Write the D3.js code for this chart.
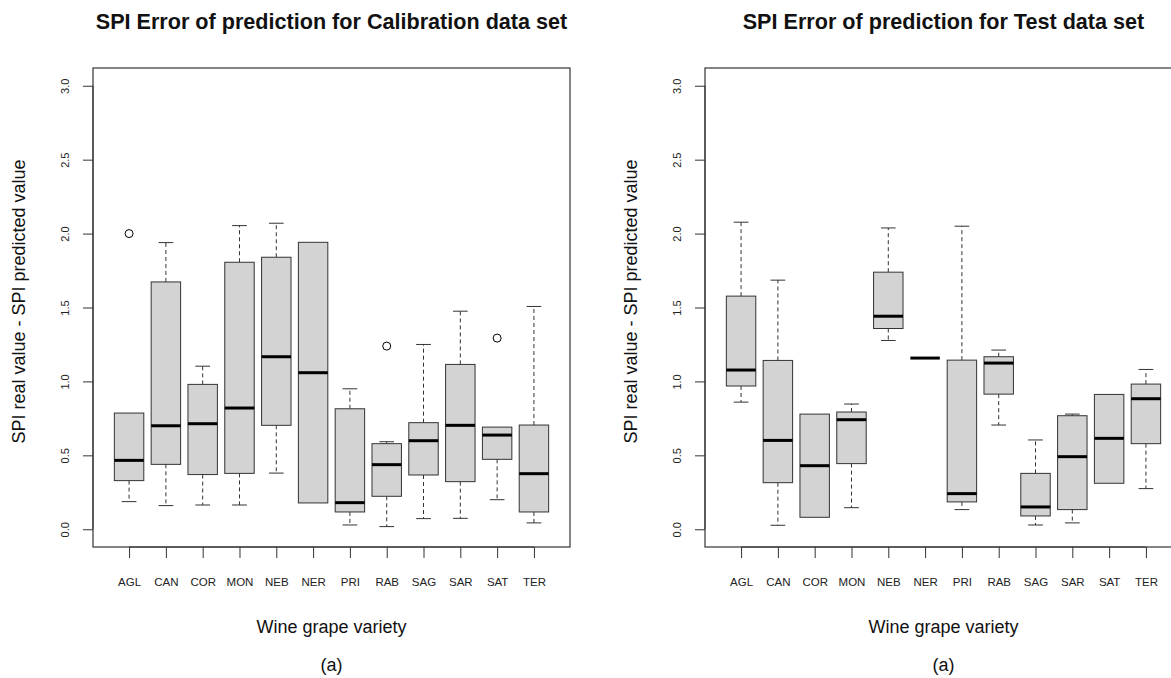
<!DOCTYPE html>
<html><head><meta charset="utf-8">
<script src="https://cdn.jsdelivr.net/npm/d3@7"></script>
<style>body{margin:0;background:#fff}svg{display:block;font-family:"Liberation Sans",Arial,sans-serif}</style>
</head><body><svg id="c" width="1171" height="678"></svg>
<script>
const categories = ["AGL","CAN","COR","MON","NEB","NER","PRI","RAB","SAG","SAR","SAT","TER"];
const yTicks = [0.0, 0.5, 1.0, 1.5, 2.0, 2.5, 3.0];

// Calibration data set
const calLow    = [0.187, 0.160, 0.164, 0.164, 0.380, 0.178, 0.029, 0.018, 0.072, 0.074, 0.200, 0.043];
const calQ1     = [0.329, 0.439, 0.370, 0.378, 0.703, 0.178, 0.117, 0.223, 0.367, 0.322, 0.473, 0.117];
const calMedian = [0.466, 0.700, 0.714, 0.820, 1.167, 1.059, 0.180, 0.437, 0.599, 0.703, 0.637, 0.376];
const calQ3     = [0.786, 1.673, 0.980, 1.806, 1.840, 1.941, 0.815, 0.579, 0.721, 1.115, 0.691, 0.705];
const calHigh   = [0.786, 1.939, 1.103, 2.054, 2.070, 1.941, 0.950, 0.592, 1.250, 1.475, 0.691, 1.507];
const calOutliers = [["AGL", 2.0], ["RAB", 1.239], ["SAT", 1.293]];

// Test data set
const testLow    = [0.860, 0.027, 0.081, 0.146, 1.277, 1.158, 0.133, 0.705, 0.029, 0.043, 0.311, 0.275];
const testQ1     = [0.969, 0.315, 0.081, 0.444, 1.358, 1.158, 0.185, 0.914, 0.090, 0.133, 0.311, 0.579];
const testMedian = [1.077, 0.601, 0.430, 0.741, 1.441, 1.158, 0.241, 1.124, 0.151, 0.491, 0.615, 0.883];
const testQ3     = [1.577, 1.142, 0.779, 0.793, 1.739, 1.158, 1.144, 1.167, 0.378, 0.768, 0.912, 0.982];
const testHigh   = [2.077, 1.685, 0.779, 0.847, 2.038, 1.158, 2.050, 1.212, 0.604, 0.779, 0.912, 1.081];
const testOutliers = [];

const svg = d3.select("#c");
const plotW = 477, plotTop = 68, plotBottom = 547;

function panel(x0, title, low, q1, med, q3, high, outliers) {
  const g = svg.append("g");
  const x = d3.scaleLinear().domain([0.02, categories.length + 0.98]).range([x0, x0 + plotW]);
  const y = d3.scaleLinear().domain([-0.12, 3.12]).range([plotBottom, plotTop]);
  const bw = (x(1.8) - x(1)); // box width 0.8
  const sw = bw / 2;
  const data = categories.map((c, i) => ({c, i: i + 1, low: low[i], q1: q1[i], med: med[i], q3: q3[i], high: high[i]}));

  // whiskers
  const wg = g.append("g").attr("stroke", "#333").attr("stroke-width", 1).attr("fill", "none");
  data.forEach(d => {
    const cx = x(d.i);
    if (d.high > d.q3) {
      wg.append("line").attr("x1", cx).attr("x2", cx).attr("y1", y(d.q3)).attr("y2", y(d.high)).attr("stroke-dasharray", "4,3");
    }
    if (d.low < d.q1) {
      wg.append("line").attr("x1", cx).attr("x2", cx).attr("y1", y(d.q1)).attr("y2", y(d.low)).attr("stroke-dasharray", "4,3");
    }
    if (d.high !== d.q3) wg.append("line").attr("x1", cx - sw/2).attr("x2", cx + sw/2).attr("y1", y(d.high)).attr("y2", y(d.high));
    if (d.low !== d.q1) wg.append("line").attr("x1", cx - sw/2).attr("x2", cx + sw/2).attr("y1", y(d.low)).attr("y2", y(d.low));
  });
  // boxes
  g.append("g").selectAll("rect").data(data).join("rect")
    .attr("x", d => x(d.i) - bw/2).attr("width", bw)
    .attr("y", d => y(d.q3)).attr("height", d => Math.max(0, y(d.q1) - y(d.q3)))
    .attr("fill", "#d3d3d3").attr("stroke", "#333").attr("stroke-width", 1);
  // medians
  g.append("g").selectAll("line").data(data).join("line")
    .attr("x1", d => x(d.i) - bw/2).attr("x2", d => x(d.i) + bw/2)
    .attr("y1", d => y(d.med)).attr("y2", d => y(d.med))
    .attr("stroke", "#000").attr("stroke-width", 3);
  // outliers
  g.append("g").selectAll("circle").data(outliers).join("circle")
    .attr("cx", d => x(categories.indexOf(d[0]) + 1)).attr("cy", d => y(d[1])).attr("r", 4)
    .attr("fill", "none").attr("stroke", "#000").attr("stroke-width", 1);

  // frame
  g.append("rect").attr("x", x0).attr("y", plotTop).attr("width", plotW).attr("height", plotBottom - plotTop)
    .attr("fill", "none").attr("stroke", "#333").attr("stroke-width", 1.2);

  // y axis
  const ya = g.append("g").attr("transform", `translate(${x0},0)`)
    .call(d3.axisLeft(y).tickValues(yTicks).tickSize(10).tickFormat(d3.format(".1f")));
  ya.select(".domain").attr("d", `M0,${y(0)}V${y(3)}`).attr("stroke", "#333");
  ya.selectAll(".tick line").attr("stroke", "#333");
  ya.selectAll(".tick text").attr("font-size", 11).attr("fill", "#222").attr("font-family", "Liberation Sans, Arial, sans-serif")
    .attr("text-anchor", "middle").attr("dy", null).attr("x", null)
    .attr("transform", "translate(-27,0) rotate(-90)").attr("dominant-baseline", "middle");

  // x axis
  const xa = g.append("g").attr("transform", `translate(0,${plotBottom})`)
    .call(d3.axisBottom(x).tickValues(categories.map((c, i) => i + 1)).tickSize(11).tickFormat(d => categories[d - 1]));
  xa.select(".domain").attr("d", `M${x(1)},0H${x(categories.length)}`).attr("stroke", "#333");
  xa.selectAll(".tick line").attr("stroke", "#333");
  xa.selectAll(".tick text").attr("font-size", 11.5).attr("fill", "#222").attr("font-family", "Liberation Sans, Arial, sans-serif")
    .attr("y", 31);

  const cx = x0 + plotW / 2;
  svg.append("text").attr("x", cx).attr("y", 29).attr("text-anchor", "middle")
    .attr("font-weight", "bold").attr("font-size", 21.6).attr("fill", "#111").text(title);
  svg.append("text").attr("x", cx).attr("y", 633).attr("text-anchor", "middle")
    .attr("font-size", 18).attr("fill", "#111").text("Wine grape variety");
  svg.append("text").attr("x", cx).attr("y", 671).attr("text-anchor", "middle")
    .attr("font-size", 18).attr("fill", "#111").text("(a)");
  svg.append("text").attr("transform", `translate(${x0 - 68},${(plotTop + plotBottom) / 2 - 6}) rotate(-90)`)
    .attr("text-anchor", "middle").attr("font-size", 18).attr("fill", "#111")
    .text("SPI real value - SPI predicted value");
}

panel(93, "SPI Error of prediction for Calibration data set", calLow, calQ1, calMedian, calQ3, calHigh, calOutliers);
panel(705, "SPI Error of prediction for Test data set", testLow, testQ1, testMedian, testQ3, testHigh, testOutliers);
</script></body></html>
